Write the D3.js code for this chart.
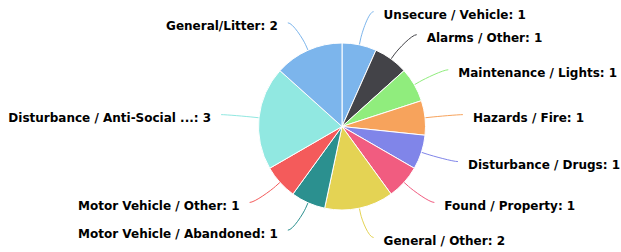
<!DOCTYPE html>
<html><head><meta charset="utf-8">
<script src="https://cdn.jsdelivr.net/npm/d3@7/dist/d3.min.js"></script>
<style>html,body{margin:0;padding:0;background:#fff;}svg{display:block;}</style>
</head><body>
<svg id="chart" width="621" height="252"></svg>
<script>
const categories = ["Unsecure / Vehicle","Alarms / Other","Maintenance / Lights","Hazards / Fire","Disturbance / Drugs","Found / Property","General / Other","Motor Vehicle / Abandoned","Motor Vehicle / Other","Disturbance / Anti-Social ...","General/Litter"];
const values = [1,1,1,1,1,1,2,1,1,3,2];
const colors = ["#7cb5ec","#434348","#90ed7d","#f7a35c","#8085e9","#f15c80","#e4d354","#2b908f","#f45b5b","#91e8e1","#7cb5ec"];

const W = 621, H = 252;
const cx = 342, cy = 126.5, R = 83.5;
const labelDist = 30;
const svg = d3.select("#chart");
const data = categories.map((c,i)=>({name:c, value:values[i], color:colors[i]}));
const pie = d3.pie().value(d=>d.value).sort(null);
const arcs = pie(data);
const arc = d3.arc().innerRadius(0).outerRadius(R);
const g = svg.append("g").attr("transform",`translate(${cx},${cy})`);

// label positions
const L = R + labelDist;
arcs.forEach(a=>{
  a.mid = (a.startAngle + a.endAngle)/2;
  a.right = Math.sin(a.mid) >= 0;
  a.ny = -L*Math.cos(a.mid);   // natural y
  a.ly = a.ny;
  a.lx = (a.right?1:-1)*(Math.sqrt(Math.max(0, L*L - a.ny*a.ny)) + 8);
});
// simple distribution per side: push labels upward when too close
const minGap = 23;
[true,false].forEach(side=>{
  const s = arcs.filter(a=>a.right===side).sort((a,b)=>a.ly-b.ly);
  for(let i=s.length-2;i>=0;i--){ if(s[i+1].ly - s[i].ly < minGap) s[i].ly = s[i+1].ly - minGap; }
});
arcs.forEach(a=>{
  a.touch = [R*Math.sin(a.mid), -R*Math.cos(a.mid)];
  a.brk = [(R+6)*Math.sin(a.mid), -(R+6)*Math.cos(a.mid)];
});

// connectors
g.selectAll("path.conn").data(arcs).join("path")
  .attr("class","conn")
  .attr("fill","none")
  .attr("stroke",d=>d.data.color)
  .attr("stroke-width",1)
  .attr("d",d=>{
    const p = d3.path();
    p.moveTo(d.lx, d.ly);
    p.bezierCurveTo(d.lx + (d.right?-5:5), d.ly, 2*d.brk[0]-d.touch[0], 2*d.brk[1]-d.touch[1], d.brk[0], d.brk[1]);
    p.lineTo(d.touch[0], d.touch[1]);
    return p.toString();
  });

// slices
g.selectAll("path.slice").data(arcs).join("path")
  .attr("class","slice")
  .attr("d",arc)
  .attr("fill",d=>d.data.color)
  .attr("stroke","#ffffff")
  .attr("stroke-width",1)
  .attr("stroke-linejoin","round");

// labels
g.selectAll("text.lbl").data(arcs).join("text")
  .attr("class","lbl")
  .attr("x",d=>d.lx + (d.right?10:-10))
  .attr("y",d=>d.ly + 7.5)
  .attr("text-anchor",d=>d.right?"start":"end")
  .attr("font-family","'DejaVu Sans', Verdana, sans-serif")
  .attr("font-size","12px")
  .attr("font-weight","bold")
  .attr("fill","#000")
  .attr("stroke","#fff").attr("stroke-width",2).attr("paint-order","stroke").attr("stroke-linejoin","round")
  .text(d=>`${d.data.name}: ${d.data.value}`);
</script>
</body></html>
